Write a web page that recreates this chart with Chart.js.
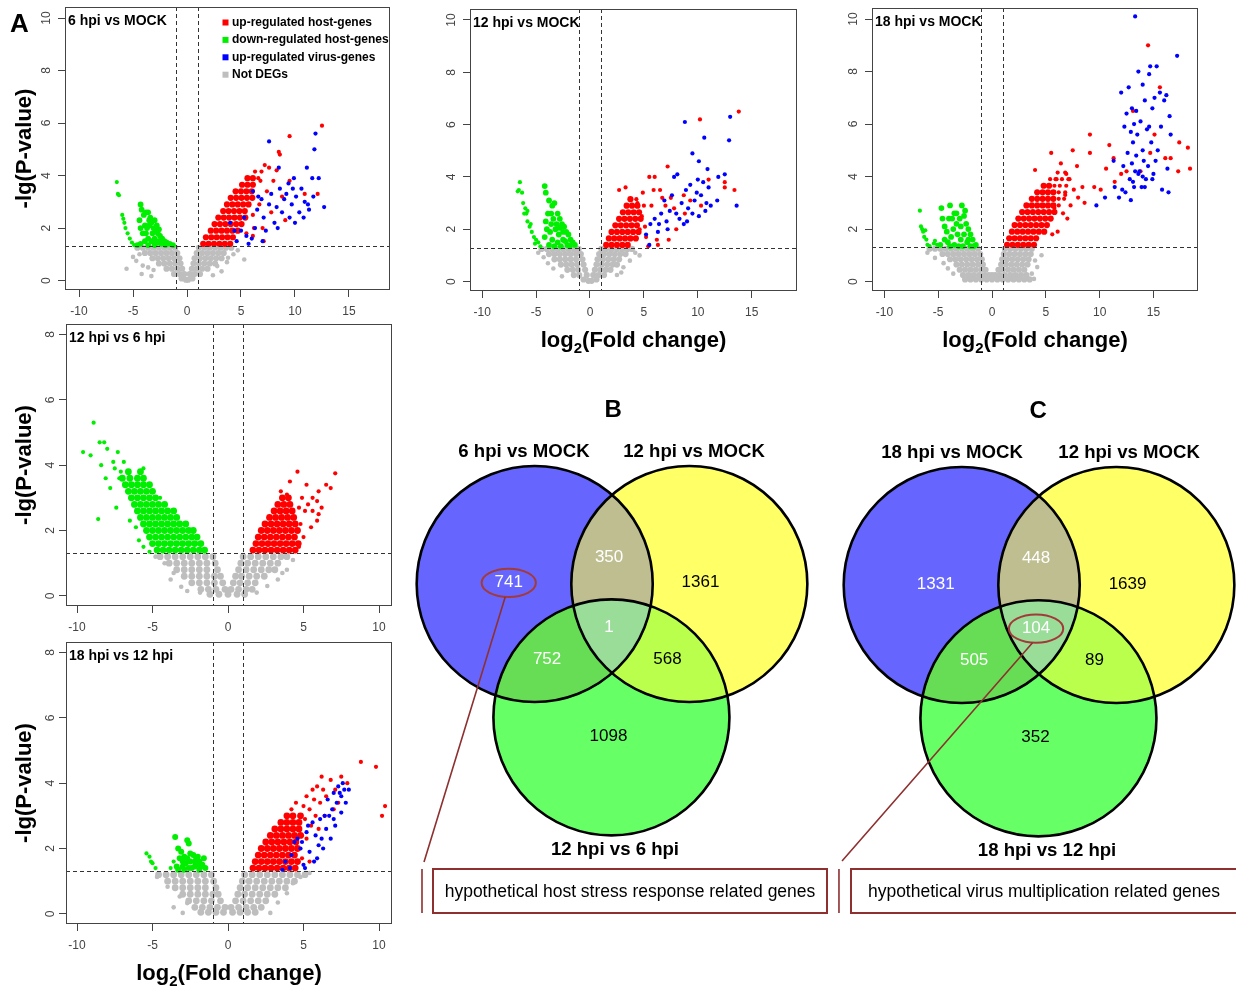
<!DOCTYPE html>
<html>
<head>
<meta charset="utf-8">
<script src="https://cdn.jsdelivr.net/npm/chart.js@4/dist/chart.umd.min.js"></script>
<style>
  body { margin: 0; background: #fff; width: 1236px; height: 987px; position: relative; overflow: hidden; }
  canvas { position: absolute; }
  .note { position: absolute; box-sizing: border-box; height: 46px; border: 2px solid #8e3030;
          font: 17.5px "Liberation Sans", Arial, sans-serif; line-height: 42px; text-align: center;
          color: #000; white-space: nowrap; }
</style>
</head>
<body>
<canvas id="v1" width="400" height="330" style="left:0;top:0"></canvas>
<canvas id="v2" width="420" height="360" style="left:400px;top:0"></canvas>
<canvas id="v3" width="416" height="360" style="left:820px;top:0"></canvas>
<canvas id="v4" width="400" height="326" style="left:0;top:314px"></canvas>
<canvas id="v5" width="400" height="353" style="left:0;top:634px"></canvas>
<canvas id="vennB" width="425" height="535" style="left:405px;top:385px"></canvas>
<canvas id="vennC" width="406" height="535" style="left:830px;top:385px"></canvas>
<div class="note" style="left:432px;top:868px;width:396px">hypothetical host stress response related genes</div>
<div class="note" style="left:850px;top:868px;width:388px">hypothetical virus multiplication related genes</div>
<script>
// ---- data ----
const panelTitles = ['6 hpi vs MOCK', '12 hpi vs MOCK', '18 hpi vs MOCK', '12 hpi vs 6 hpi', '18 hpi vs 12 hpi'];
const legendLabels = ['up-regulated host-genes', 'down-regulated host-genes', 'up-regulated virus-genes', 'Not DEGs'];
const topXTicks = [-10, -5, 0, 5, 10, 15];
const topYTicks = [0, 2, 4, 6, 8, 10];
const lowXTicks = [-10, -5, 0, 5, 10];
const lowYTicks = [0, 2, 4, 6, 8];
const thresholdX = [-1, 1];
const thresholdY = 1.3;
const xAxisTitle = ['log', '2', '(Fold change)'];   // base, subscript, rest
const yAxisTitle = '-lg(P-value)';

// 6 hpi vs MOCK  (Core = densely packed genes, others = scattered genes)
const p1GrayCore = [[-4.6,1.25],[-4.1,1.25],[-3.6,1.25],[-3.1,1.25],[-2.6,1.25],[-2.1,1.25],[-1.6,1.25],[-1.1,1.25],[1.1,1.25],[1.6,1.25],[2.1,1.25],[2.6,1.25],[3.1,1.25],[3.6,1.25],[4.1,1.25],
  [-3.9,1.05],[-3.4,1.05],[-2.9,1.05],[-2.4,1.05],[-1.9,1.05],[-1.4,1.05],[-0.9,1.05],[0.9,1.05],[1.4,1.05],[1.9,1.05],[2.4,1.05],[2.9,1.05],[3.4,1.05],
  [-3.2,0.85],[-2.7,0.85],[-2.2,0.85],[-1.7,0.85],[-1.2,0.85],[-0.7,0.85],[0.7,0.85],[1.2,0.85],[1.7,0.85],[2.2,0.85],[2.7,0.85],[3.2,0.85],
  [-2.6,0.65],[-2.1,0.65],[-1.6,0.65],[-1.1,0.65],[-0.6,0.65],[0.6,0.65],[1.1,0.65],[1.6,0.65],[2.1,0.65],[2.6,0.65],
  [-1.9,0.45],[-1.4,0.45],[-0.9,0.45],[-0.45,0.45],[0.45,0.45],[0.9,0.45],[1.4,0.45],[1.9,0.45],
  [-1.2,0.25],[-0.7,0.25],[-0.25,0.25],[0.25,0.25],[0.7,0.25],[1.2,0.25],
  [-0.5,0.08],[-0.1,0.03],[0.1,0.03],[0.5,0.08]];
const p1Gray = [[-5.0,0.9],[-4.7,0.75],[-4.1,0.57],[-4.4,1.0],[-3.6,0.5],[-3.3,0.17],[-3.1,0.4],[-5.6,0.45],[-4.2,0.25],
  [2.8,0.55],[3.8,0.87],[3.7,0.7],[4.3,1.0],[3.2,0.35],[4.7,1.15],[5.3,0.8],[2.4,0.2]];
const p1GreenCore = [[-4.3,2.9],[-4.2,2.7],[-4.4,2.3],[-4.0,2.5],[-3.8,2.6],[-3.6,2.6],[-3.4,2.4],[-3.7,2.0],[-3.5,2.1],[-3.3,2.2],[-3.1,2.0],[-2.9,1.9],[-2.7,1.8],[-2.5,1.7],[-2.3,1.6],[-2.1,1.5],[-1.9,1.45],[-1.6,1.4],[-1.3,1.35],
  [-4.1,1.8],[-3.9,1.5],[-3.6,1.6],[-3.3,1.5],[-3.0,1.6],[-2.8,1.45],[-2.4,1.4],[-2.0,1.35],[-4.3,1.4],[-3.6,1.35],[-3.0,1.35],[-2.6,1.5],[-3.2,1.8],[-3.9,2.1],[-4.3,2.0],[-3.5,2.3],[-2.8,2.1],[-3.0,2.3],[-4.6,1.35],[-3.8,1.8],[-2.6,1.95]];
const p1Green = [[-6.5,3.75],[-6.4,3.3],[-6.3,3.25],[-6.0,2.5],[-5.9,2.35],[-5.8,2.2],[-5.7,2.0],[-5.5,1.8],[-5.3,1.6],[-5.1,1.45],[-4.9,1.35]];
const p1RedCore = [[1.5,1.4],[2.0,1.4],[2.5,1.4],[3.0,1.4],[3.5,1.4],[4.0,1.4],
  [1.75,1.65],[2.25,1.65],[2.75,1.65],[3.25,1.65],[3.75,1.65],[4.25,1.65],
  [2.2,1.9],[2.7,1.9],[3.2,1.9],[3.7,1.9],[4.2,1.9],[4.7,1.9],
  [2.55,2.15],[3.05,2.15],[3.55,2.15],[4.05,2.15],[4.55,2.15],[5.05,2.15],
  [2.9,2.4],[3.4,2.4],[3.9,2.4],[4.4,2.4],[4.9,2.4],[5.4,2.4],
  [3.35,2.65],[3.85,2.65],[4.35,2.65],[4.85,2.65],[5.35,2.65],
  [3.7,2.9],[4.2,2.9],[4.7,2.9],[5.2,2.9],[5.7,2.9],
  [4.05,3.15],[4.55,3.15],[5.05,3.15],[5.55,3.15],[6.05,3.15],
  [4.5,3.4],[5.0,3.4],[5.5,3.4],[6.0,3.4],
  [5.1,3.65],[5.6,3.65],[6.1,3.65],[5.6,3.9],[6.1,3.9]];
const p1Red = [[6.6,3.9],[6.3,4.15],[6.9,4.15],
  [5.5,1.8],[6.1,1.7],[7.0,2.0],[6.1,2.5],[6.7,2.9],[7.4,3.4],[6.8,3.8],[7.2,4.4],[7.6,4.3],[8.0,3.8],[8.3,4.2],[8.5,4.9],[8.6,4.8],[9.5,5.5],[12.5,5.9],[12.1,3.3],[10.9,3.3],[9.5,3.8],[9.1,2.3],[6.2,2.0],[7.8,2.6],[8.8,3.2],[7.1,1.5]];
const p1Blue = [[4.0,2.2],[4.4,1.9],[4.6,1.5],[5.0,1.9],[5.3,2.4],[5.5,1.7],[6.1,3.4],[6.6,3.2],
  [6.0,1.6],[6.3,2.0],[6.5,2.7],[6.9,3.1],[7.1,2.4],[7.3,1.9],[7.6,2.9],[7.8,3.3],[7.6,5.3],[8.1,2.2],[8.3,2.8],[8.5,4.3],[8.6,3.5],[8.8,2.6],[9.0,3.1],[9.2,3.3],[9.5,2.4],[9.7,2.9],[9.9,3.9],[10.1,3.2],[10.4,2.6],[10.6,3.5],[10.9,3.0],[11.1,4.3],[11.3,2.7],[11.6,3.9],[11.9,5.6],[11.8,5.0],[11.7,3.2],[12.2,3.9],[12.7,2.8],[8.4,2.0],[10.0,2.2],[7.0,1.5],[9.4,3.7],[10.8,2.4],[5.7,1.4],[9.8,3.5],[11.2,2.9]];

// 12 hpi vs MOCK
const p2GrayCore = [[-4.5,1.25],[-4.0,1.25],[-3.5,1.25],[-3.0,1.25],[-2.5,1.25],[-2.0,1.25],[-1.5,1.25],[-1.05,1.25],[1.05,1.25],[1.5,1.25],[2.0,1.25],[2.5,1.25],[3.0,1.25],[3.5,1.25],[3.9,1.25],
  [-3.8,1.05],[-3.3,1.05],[-2.8,1.05],[-2.3,1.05],[-1.8,1.05],[-1.3,1.05],[-0.85,1.05],[0.85,1.05],[1.3,1.05],[1.8,1.05],[2.3,1.05],[2.8,1.05],[3.3,1.05],
  [-3.3,0.85],[-2.8,0.85],[-2.3,0.85],[-1.8,0.85],[-1.3,0.85],[-0.7,0.85],[0.7,0.85],[1.2,0.85],[1.7,0.85],[2.2,0.85],[2.7,0.85],
  [-2.7,0.65],[-2.2,0.65],[-1.7,0.65],[-1.2,0.65],[-0.6,0.65],[0.6,0.65],[1.1,0.65],[1.6,0.65],[2.1,0.65],[2.5,0.65],
  [-2.1,0.45],[-1.6,0.45],[-1.1,0.45],[-0.45,0.45],[0.45,0.45],[0.95,0.45],[1.45,0.45],[1.9,0.45],
  [-1.5,0.25],[-1.0,0.25],[-0.3,0.25],[0.3,0.25],[0.8,0.25],[1.3,0.25],
  [-0.6,0.08],[-0.15,0.03],[0.15,0.03],[0.6,0.08]];
const p2Gray = [[-4.3,0.93],[-3.9,0.7],[-3.4,0.5],[-2.6,0.2],[-4.8,1.1],[4.2,1.1],[3.7,0.8],[3.1,0.55],[2.5,0.25],[4.6,1.0],[2.9,0.35]];
const p2GreenCore = [[-4.2,3.65],[-4.1,3.4],[-3.8,3.1],[-3.5,2.9],[-3.3,3.0],[-3.6,2.6],[-3.9,2.6],[-4.1,2.3],[-3.4,2.4],[-3.0,2.6],[-2.8,2.4],[-2.6,2.2],[-2.4,2.1],[-2.2,1.9],[-2.0,1.8],[-1.8,1.6],[-1.6,1.5],[-1.4,1.4],
  [-3.7,1.9],[-3.2,2.0],[-2.9,1.8],[-3.5,1.6],[-3.0,1.5],[-2.5,1.6],[-2.1,1.4],[-3.8,1.4],[-4.2,1.7],[-3.3,1.35],[-2.7,1.35],[-2.5,1.9],[-3.1,2.2],[-2.8,2.05],[-3.6,2.2],[-2.3,1.55],[-1.9,1.35],[-4.0,2.0]];
const p2Green = [[-6.5,3.8],[-6.6,3.5],[-6.3,3.4],[-6.2,3.0],[-6.0,2.8],[-5.9,2.6],[-5.8,2.3],[-5.6,2.1],[-5.4,1.9],[-5.2,1.7],[-5.0,1.6],[-4.8,1.5],[-4.6,1.35],[-5.8,2.7],[-6.1,2.6],[-5.5,2.2],[-6.7,3.45],[-5.1,1.45]];
const p2RedCore = [[1.5,1.4],[2.0,1.4],[2.5,1.4],[3.0,1.4],[3.5,1.4],
  [1.75,1.65],[2.25,1.65],[2.75,1.65],[3.25,1.65],[3.75,1.65],[4.25,1.65],
  [2.0,1.9],[2.5,1.9],[3.0,1.9],[3.5,1.9],[4.0,1.9],[4.5,1.9],
  [2.35,2.15],[2.85,2.15],[3.35,2.15],[3.85,2.15],[4.35,2.15],
  [2.7,2.4],[3.2,2.4],[3.7,2.4],[4.2,2.4],[4.7,2.4],
  [3.05,2.65],[3.55,2.65],[4.05,2.65],[4.55,2.65],[3.4,2.9],[3.9,2.9],[4.4,2.9],[3.75,3.15]];
const p2Red = [[4.3,3.15],[5.5,4.0],[6.0,4.0],[7.2,4.4],[6.5,3.5],[5.9,3.5],[7.0,2.9],[7.5,3.2],[7.8,2.8],[8.0,2.0],[7.3,1.6],[6.2,1.6],[5.4,1.35],[6.3,1.4],[8.7,3.3],[9.3,3.1],[10.2,6.2],[10.3,2.9],[11.0,3.9],[12.5,3.8],[12.5,3.6],[13.4,3.5],[13.8,6.5],
  [2.7,3.5],[3.3,3.6],[4.4,3.0],[4.8,2.5],[5.1,2.1],[5.7,2.9],[6.7,3.2],[4.6,2.0],[5.2,1.7],[8.8,2.6],[5.0,2.9],[4.9,3.4]];
const p2Blue = [[5.2,1.8],[5.6,2.2],[6.0,2.4],[6.3,1.9],[6.6,2.6],[6.9,3.1],[7.1,2.3],[7.4,2.7],[7.6,3.3],[7.8,4.0],[8.1,4.1],[8.3,2.4],[8.5,3.0],[8.7,2.2],[8.9,3.5],[9.1,2.8],[9.3,3.7],[9.5,2.6],[9.7,3.1],[9.9,3.4],[10.1,2.5],[10.3,3.3],[10.5,3.8],[10.8,3.0],[11.0,3.6],[11.2,2.9],[11.8,3.1],[12.5,4.1],[13.6,2.9],
  [8.8,6.1],[13.0,6.3],[12.9,5.4],[10.6,5.5],[9.5,4.9],[10.1,4.6],[10.9,4.3],[11.9,4.0],[7.2,2.0],[8.0,2.6],[9.0,2.3],[10.0,3.9],[10.7,2.7],[6.4,2.2],[5.5,1.4]];

// 18 hpi vs MOCK
const p3GrayCore = [[-5.8,1.25],[-5.3,1.25],[-4.8,1.25],[-4.3,1.25],[-3.8,1.25],[-3.3,1.25],[-2.8,1.25],[-2.3,1.25],[-1.8,1.25],[-1.3,1.25],[1.2,1.25],[1.7,1.25],[2.2,1.25],[2.7,1.25],[3.2,1.25],[3.7,1.25],
  [-4.6,1.05],[-4.1,1.05],[-3.6,1.05],[-3.1,1.05],[-2.6,1.05],[-2.1,1.05],[-1.6,1.05],[-1.1,1.05],[1.1,1.05],[1.6,1.05],[2.1,1.05],[2.6,1.05],[3.1,1.05],[3.6,1.05],
  [-3.9,0.85],[-3.4,0.85],[-2.9,0.85],[-2.4,0.85],[-1.9,0.85],[-1.4,0.85],[-0.95,0.85],[0.95,0.85],[1.4,0.85],[1.9,0.85],[2.4,0.85],[2.9,0.85],[3.4,0.85],
  [-3.3,0.65],[-2.8,0.65],[-2.3,0.65],[-1.8,0.65],[-1.3,0.65],[-0.85,0.65],[0.85,0.65],[1.3,0.65],[1.8,0.65],[2.3,0.65],[2.8,0.65],[3.3,0.65],
  [-3.0,0.45],[-2.5,0.45],[-2.0,0.45],[-1.5,0.45],[-1.0,0.45],[-0.6,0.45],[0.6,0.45],[1.0,0.45],[1.5,0.45],[2.0,0.45],[2.5,0.45],[3.0,0.45],
  [-2.7,0.25],[-2.2,0.25],[-1.7,0.25],[-1.2,0.25],[-0.7,0.25],[-0.3,0.25],[0.0,0.25],[0.3,0.25],[0.7,0.25],[1.2,0.25],[1.7,0.25],[2.2,0.25],[2.7,0.25],[3.2,0.25],
  [-2.5,0.08],[-2.0,0.08],[-1.5,0.08],[-1.0,0.08],[-0.5,0.08],[0.0,0.08],[0.5,0.08],[1.0,0.08],[1.5,0.08],[2.0,0.08],[2.5,0.08],[3.0,0.08],[3.5,0.08]];
const p3Gray = [[-5.3,0.9],[-4.5,0.7],[-4.1,0.5],[-3.6,0.3],[-6.0,1.1],[4.2,0.55],[3.7,0.3],[4.0,0.8],[4.6,1.0],[3.9,0.1]];
const p3GreenCore = [[-4.7,2.8],[-4.6,2.4],[-4.4,2.1],[-4.2,1.9],[-3.9,2.9],[-3.7,2.4],[-3.5,2.6],[-3.3,2.2],[-3.0,2.4],[-2.8,2.9],[-2.6,2.5],[-2.4,2.2],[-2.2,2.0],[-2.0,1.8],[-1.8,1.6],[-1.5,1.4],
  [-4.1,1.5],[-3.8,1.7],[-3.5,1.4],[-3.2,1.8],[-2.9,1.6],[-2.6,1.8],[-2.3,1.5],[-2.9,2.1],[-3.6,2.0],[-4.4,1.6],[-2.0,1.35],[-3.1,1.35],[-2.7,1.35],[-4.0,2.4],[-3.3,2.6],[-2.5,2.7],[-4.8,1.4],[-1.7,1.35],[-3.9,1.35],[-2.2,1.6]];
const p3Green = [[-6.7,2.7],[-6.6,2.1],[-6.4,1.9],[-6.3,1.7],[-6.1,1.6],[-6.0,1.4],[-5.8,1.35],[-5.3,1.55],[-5.1,1.4],[-6.2,1.95],[-6.5,2.0],[-5.4,1.45]];
const p3RedCore = [[1.4,1.4],[1.9,1.4],[2.4,1.4],[2.9,1.4],[3.4,1.4],[3.9,1.4],
  [1.6,1.65],[2.1,1.65],[2.6,1.65],[3.1,1.65],[3.6,1.65],[4.1,1.65],
  [1.85,1.9],[2.35,1.9],[2.85,1.9],[3.35,1.9],[3.85,1.9],[4.35,1.9],[4.85,1.9],
  [2.1,2.15],[2.6,2.15],[3.1,2.15],[3.6,2.15],[4.1,2.15],[4.6,2.15],[5.1,2.15],
  [2.45,2.4],[2.95,2.4],[3.45,2.4],[3.95,2.4],[4.45,2.4],[4.95,2.4],[5.45,2.4],
  [2.8,2.65],[3.3,2.65],[3.8,2.65],[4.3,2.65],[4.8,2.65],[5.3,2.65],[5.8,2.65],
  [3.2,2.9],[3.7,2.9],[4.2,2.9],[4.7,2.9],[5.2,2.9],[5.7,2.9],
  [3.7,3.15],[4.2,3.15],[4.7,3.15],[5.2,3.15],[5.7,3.15],
  [4.2,3.4],[4.7,3.4],[5.2,3.4],[5.7,3.4],[4.8,3.65],[5.3,3.65]];
const p3Red = [[6.2,2.9],[6.2,3.15],[6.7,3.15],[6.2,3.4],[6.8,3.4],[5.8,3.65],[6.3,3.65],[6.9,3.65],[5.4,3.9],[5.9,3.9],[6.5,3.9],[7.1,3.9],[6.1,4.15],[6.8,4.15],
  [4.0,4.25],[5.5,4.9],[7.5,5.0],[9.1,5.6],[9.1,4.9],[6.4,4.5],[7.9,4.4],[8.4,3.6],[7.2,3.9],[6.8,3.3],[8.6,3.0],[9.5,3.6],[10.1,3.5],[10.9,5.2],[11.3,4.7],[10.6,4.3],[11.4,3.8],[12.0,4.1],
  [14.5,9.0],[15.6,7.4],[15.1,5.6],[14.7,4.9],[16.1,4.7],[16.6,4.7],[17.4,5.3],[17.3,4.2],[18.2,5.1],[18.4,4.3],[13.1,6.5],[13.8,4.2],[12.5,4.2],
  [5.6,1.8],[6.1,1.9],[5.8,2.8],[6.6,2.6],[7.0,2.4],[6.9,4.1],[7.6,3.5],[8.0,3.2],[7.3,2.9],[6.0,3.9]];
const p3Blue = [[9.7,2.9],[10.5,3.2],[11.3,4.6],[11.4,3.6],[11.8,3.2],[12.0,7.2],[12.1,3.5],[12.2,4.4],[12.3,5.9],[12.4,3.4],[12.5,6.4],[12.6,4.9],[12.7,7.4],[12.8,3.9],[12.9,3.1],[13.0,6.6],[13.0,4.5],[13.1,5.3],[13.2,6.0],[13.2,3.6],[13.3,10.1],
  [13.4,4.8],[13.5,5.6],[13.6,8.0],[13.7,4.2],[13.8,6.1],[13.9,3.6],[14.0,5.0],[14.0,7.5],[14.1,4.6],[14.2,6.9],[14.3,3.9],[14.4,5.8],[14.5,4.4],[14.6,7.9],[14.7,8.2],[14.8,5.3],[14.9,6.6],[15.0,4.1],[15.1,7.0],[15.3,8.2],[15.4,5.0],[15.6,7.2],[15.8,3.5],
  [16.0,6.9],[16.2,7.1],[16.3,4.3],[16.4,3.4],[16.5,6.3],[16.6,5.6],[17.2,8.6],[14.2,3.6],[13.6,4.1],[15.2,4.6],[13.4,6.5],[14.6,5.9],[12.9,5.7],[14.0,4.0],[13.3,4.2],[15.7,5.9],[14.9,3.9],[13.1,3.8]];

// 12 hpi vs 6 hpi
const p4GrayCore = [[-4.5,1.2],[-4.0,1.2],[-3.5,1.2],[-3.0,1.2],[-2.5,1.2],[-2.0,1.2],[-1.5,1.2],[-1.0,1.2],[1.0,1.2],[1.5,1.2],[2.0,1.2],[2.5,1.2],[3.0,1.2],[3.5,1.2],[3.9,1.2],
  [-3.9,1.0],[-3.4,1.0],[-2.9,1.0],[-2.4,1.0],[-1.9,1.0],[-1.4,1.0],[-0.85,1.0],[0.85,1.0],[1.3,1.0],[1.8,1.0],[2.3,1.0],[2.8,1.0],[3.3,1.0],
  [-3.4,0.8],[-2.9,0.8],[-2.4,0.8],[-1.9,0.8],[-1.4,0.8],[-0.7,0.8],[0.7,0.8],[1.2,0.8],[1.7,0.8],[2.2,0.8],[2.7,0.8],[3.1,0.8],
  [-2.9,0.6],[-2.4,0.6],[-1.9,0.6],[-1.4,0.6],[-0.9,0.6],[-0.5,0.6],[0.5,0.6],[0.9,0.6],[1.4,0.6],[1.9,0.6],[2.4,0.6],
  [-2.4,0.4],[-1.9,0.4],[-1.4,0.4],[-0.9,0.4],[-0.35,0.4],[0.35,0.4],[0.8,0.4],[1.3,0.4],[1.8,0.4],
  [-1.8,0.2],[-1.3,0.2],[-0.8,0.2],[-0.2,0.2],[0.2,0.2],[0.7,0.2],[1.2,0.2],[1.6,0.2],
  [-1.2,0.05],[-0.6,0.05],[0.0,0.05],[0.6,0.05],[1.1,0.05]];
const p4Gray = [[-3.6,0.7],[-3.1,0.28],[-1.85,0.1],[-4.2,1.0],[-3.8,0.5],[-2.7,0.15],[3.6,0.7],[3.9,0.8],[3.3,0.5],[1.9,0.1],[4.3,1.1],[2.6,0.3],[-4.8,1.2]];
const p4GreenCore = [[-4.7,1.4],[-4.3,1.4],[-3.9,1.4],[-3.5,1.4],[-3.1,1.4],[-2.7,1.4],[-2.3,1.4],[-1.9,1.4],[-1.55,1.4],
  [-5.0,1.6],[-4.6,1.6],[-4.2,1.6],[-3.8,1.6],[-3.4,1.6],[-3.0,1.6],[-2.6,1.6],[-2.2,1.6],[-1.8,1.6],
  [-5.2,1.8],[-4.8,1.8],[-4.4,1.8],[-4.0,1.8],[-3.6,1.8],[-3.2,1.8],[-2.8,1.8],[-2.4,1.8],[-2.05,1.8],
  [-5.4,2.0],[-5.0,2.0],[-4.6,2.0],[-4.2,2.0],[-3.8,2.0],[-3.4,2.0],[-3.0,2.0],[-2.6,2.0],[-2.3,2.0],
  [-5.6,2.2],[-5.2,2.2],[-4.8,2.2],[-4.4,2.2],[-4.0,2.2],[-3.6,2.2],[-3.2,2.2],[-2.8,2.2],
  [-5.8,2.4],[-5.4,2.4],[-5.0,2.4],[-4.6,2.4],[-4.2,2.4],[-3.8,2.4],[-3.4,2.4],
  [-6.0,2.6],[-5.6,2.6],[-5.2,2.6],[-4.8,2.6],[-4.4,2.6],[-4.0,2.6],[-3.6,2.6],
  [-6.2,2.8],[-5.8,2.8],[-5.4,2.8],[-5.0,2.8],[-4.6,2.8],[-4.2,2.8],
  [-6.4,3.0],[-6.0,3.0],[-5.6,3.0],[-5.2,3.0],[-4.8,3.0],
  [-6.6,3.2],[-6.2,3.2],[-5.8,3.2],[-5.4,3.2],[-5.0,3.2],
  [-6.8,3.4],[-6.4,3.4],[-6.0,3.4],[-5.6,3.4],[-5.2,3.4],
  [-7.0,3.6],[-6.5,3.6],[-6.0,3.6],[-5.6,3.6],[-6.6,3.8],[-5.8,3.8]];
const p4Green = [[-7.1,3.8],[-9.6,4.4],[-8.9,5.3],[-8.5,4.7],[-8.2,4.7],[-8.6,2.35],[-8.4,4.0],[-8.0,4.5],[-7.6,4.1],[-7.3,4.4],[-7.5,3.9],[-7.2,3.6],[-7.4,2.7],[-8.1,3.6],[-9.1,4.3],[-7.8,3.3],[-6.9,4.1],[-6.5,2.3],[-6.1,2.1],[-5.9,1.7],[-5.6,1.5],[-5.2,1.35],[-5.6,3.9],[-4.5,3.0]];
const p4RedCore = [[1.65,1.4],[2.05,1.4],[2.45,1.4],[2.85,1.4],[3.25,1.4],[3.65,1.4],[4.05,1.4],[4.45,1.4],
  [1.85,1.6],[2.25,1.6],[2.65,1.6],[3.05,1.6],[3.45,1.6],[3.85,1.6],[4.25,1.6],[4.65,1.6],
  [2.0,1.8],[2.4,1.8],[2.8,1.8],[3.2,1.8],[3.6,1.8],[4.0,1.8],[4.4,1.8],
  [2.2,2.0],[2.6,2.0],[3.0,2.0],[3.4,2.0],[3.8,2.0],[4.2,2.0],[4.6,2.0],
  [2.45,2.2],[2.85,2.2],[3.25,2.2],[3.65,2.2],[4.05,2.2],[4.45,2.2],
  [2.75,2.4],[3.15,2.4],[3.55,2.4],[3.95,2.4],[4.35,2.4],
  [3.05,2.6],[3.45,2.6],[3.85,2.6],[4.25,2.6],[3.3,2.8],[3.7,2.8],[4.1,2.8],[3.6,3.0],[4.0,3.0]];
const p4Red = [[4.6,3.8],[4.1,3.5],[4.7,2.7],[5.2,3.4],[5.6,3.0],[5.9,2.9],[6.0,3.2],[6.2,2.7],[6.5,3.4],[6.8,3.3],[7.1,3.75],[6.0,2.5],[5.9,2.3],[5.5,2.1],[5.1,2.6],[4.8,2.2],[5.0,1.8],[5.3,2.8],[4.9,3.0],[5.6,2.6],[4.7,1.5],[3.5,3.2],[3.9,3.1]];
const p4Blue = [];

// 18 hpi vs 12 hpi
const p5GrayCore = [[-4.6,1.2],[-4.1,1.2],[-3.6,1.2],[-3.1,1.2],[-2.6,1.2],[-2.1,1.2],[-1.6,1.2],[-1.1,1.2],[1.1,1.2],[1.6,1.2],[2.1,1.2],[2.6,1.2],[3.1,1.2],[3.6,1.2],[4.1,1.2],[4.6,1.2],[5.1,1.2],
  [-4.0,1.0],[-3.5,1.0],[-3.0,1.0],[-2.5,1.0],[-2.0,1.0],[-1.5,1.0],[-0.95,1.0],[0.95,1.0],[1.4,1.0],[1.9,1.0],[2.4,1.0],[2.9,1.0],[3.4,1.0],[3.9,1.0],[4.4,1.0],
  [-3.5,0.8],[-3.0,0.8],[-2.5,0.8],[-2.0,0.8],[-1.5,0.8],[-0.8,0.8],[0.8,0.8],[1.3,0.8],[1.8,0.8],[2.3,0.8],[2.8,0.8],[3.3,0.8],[3.8,0.8],
  [-3.0,0.6],[-2.5,0.6],[-2.0,0.6],[-1.5,0.6],[-1.0,0.6],[-0.65,0.6],[0.65,0.6],[1.1,0.6],[1.6,0.6],[2.1,0.6],[2.6,0.6],[3.1,0.6],
  [-2.6,0.4],[-2.1,0.4],[-1.6,0.4],[-1.1,0.4],[-0.5,0.4],[0.5,0.4],[1.0,0.4],[1.5,0.4],[2.0,0.4],[2.5,0.4],
  [-2.2,0.2],[-1.7,0.2],[-1.2,0.2],[-0.7,0.2],[-0.2,0.2],[0.2,0.2],[0.7,0.2],[1.2,0.2],[1.7,0.2],[2.2,0.2],
  [-1.8,0.05],[-1.3,0.05],[-0.8,0.05],[-0.3,0.05],[0.3,0.05],[0.8,0.05],[1.3,0.05],[1.8,0.05]];
const p5Gray = [[-4.7,1.13],[-4.0,0.83],[-3.2,0.53],[-2.7,0.33],[-3.0,0.03],[-3.6,0.2],[4.3,0.94],[3.9,0.63],[2.8,0.03],[4.8,1.13],[5.4,1.25],[3.3,0.35]];
const p5GreenCore = [[-3.5,2.35],[-3.3,2.0],[-3.1,1.9],[-2.9,1.75],[-2.7,2.25],[-2.6,2.15],[-2.5,1.6],[-2.3,1.8],[-2.1,1.7],[-1.9,1.6],[-1.7,1.5],[-1.5,1.4],
  [-3.4,1.45],[-3.0,1.45],[-2.6,1.4],[-2.2,1.45],[-1.9,1.35],[-3.0,1.6],[-2.5,1.85],[-2.0,1.5],[-3.2,1.7],[-1.6,1.7],[-2.8,1.55],[-2.4,1.4],[-2.7,1.7],[-2.2,1.6],[-1.8,1.45],[-3.3,1.35],[-2.9,1.35],[-2.0,1.75]];
const p5Green = [[-5.4,1.85],[-5.2,1.75],[-5.0,1.55],[-4.8,1.4],[-5.1,1.6],[-3.6,1.6],[-3.8,1.4]];
const p5RedCore = [[1.65,1.4],[2.05,1.4],[2.45,1.4],[2.85,1.4],[3.25,1.4],[3.65,1.4],[4.05,1.4],[4.45,1.4],
  [1.8,1.6],[2.2,1.6],[2.6,1.6],[3.0,1.6],[3.4,1.6],[3.8,1.6],[4.2,1.6],[4.6,1.6],
  [2.0,1.8],[2.4,1.8],[2.8,1.8],[3.2,1.8],[3.6,1.8],[4.0,1.8],[4.4,1.8],
  [2.2,2.0],[2.6,2.0],[3.0,2.0],[3.4,2.0],[3.8,2.0],[4.2,2.0],[4.6,2.0],
  [2.5,2.2],[2.9,2.2],[3.3,2.2],[3.7,2.2],[4.1,2.2],[4.5,2.2],
  [2.8,2.4],[3.2,2.4],[3.6,2.4],[4.0,2.4],[4.4,2.4],[4.8,2.4],
  [3.1,2.6],[3.5,2.6],[3.9,2.6],[4.3,2.6],[4.7,2.6],[3.5,2.8],[3.9,2.8],[4.3,2.8],[4.7,2.8],[3.9,3.0],[4.3,3.0],[4.8,3.0]];
const p5Red = [[5.0,3.3],[5.2,3.6],[5.4,3.2],[5.6,3.8],[5.9,3.9],[6.2,4.2],[6.5,3.6],[6.8,4.1],[7.1,3.8],[7.5,4.2],[7.9,4.0],[5.1,2.9],[5.5,2.7],[5.8,3.0],[6.1,3.4],[5.4,1.6],[6.0,2.6],[6.4,3.0],[7.0,3.2],[7.3,3.4],
  [8.8,4.65],[9.8,4.5],[10.4,3.3],[10.2,3.0],[4.9,1.7],[5.2,2.3],[4.5,3.4],[4.2,3.2],[6.3,3.8],[5.7,3.5],[4.9,2.4]];
const p5Blue = [[3.6,1.35],[3.8,1.6],[4.2,1.8],[4.4,2.2],[4.6,2.3],[4.8,2.0],[5.0,1.5],[5.2,2.5],[5.4,1.9],[5.6,2.8],[5.8,2.4],[5.9,1.7],[6.0,2.1],[6.1,2.9],[6.2,2.3],[6.4,3.0],[6.5,2.6],[6.6,3.5],[6.8,2.3],[6.9,3.2],
  [7.0,3.7],[7.1,2.7],[7.2,3.4],[7.3,3.9],[7.4,3.7],[7.5,3.1],[7.6,4.0],[7.7,3.8],[7.8,3.4],[8.0,3.8],[5.3,2.7],[6.3,2.0],[4.9,2.2],[7.0,2.9],[4.1,1.4],[5.7,1.6],[5.1,1.4],[6.7,3.0],[7.5,3.6]];

// Venn diagrams: regions in order [A only, A&B, B only, A&C, A&B&C, B&C, C only]
const vennBSets = ['6 hpi vs MOCK', '12 hpi vs MOCK', '12 hpi vs 6 hpi'];
const vennBCounts = [741, 350, 1361, 752, 1, 568, 1098];
const vennCSets = ['18 hpi vs MOCK', '12 hpi vs MOCK', '18 hpi vs 12 hpi'];
const vennCCounts = [1331, 448, 1639, 505, 104, 89, 352];

// ---- drawing ----
const FONT = '"Liberation Sans", Arial, "DejaVu Sans", sans-serif';
const AXIS = '#444';
const C_UP = '#ff0000', C_DOWN = '#00ee00', C_VIRUS = '#0000ff', C_NS = '#bebebe';
const legendColors = [C_UP, C_DOWN, C_VIRUS, C_NS];

const toXY = arr => arr.map(([x, y]) => ({x: x, y: y}));

function volcanoDecor(p) {
  return {
    id: 'volcanoDecor',
    afterDatasetsDraw(chart) {
      const ctx = chart.ctx, a = chart.chartArea;
      const xs = chart.scales.x, ys = chart.scales.y;
      ctx.save();
      ctx.strokeStyle = '#333';
      ctx.lineWidth = 1;
      ctx.setLineDash([4, 3]);
      thresholdX.forEach(v => {
        const px = Math.round(xs.getPixelForValue(v)) + 0.5;
        ctx.beginPath(); ctx.moveTo(px, a.top); ctx.lineTo(px, a.bottom); ctx.stroke();
      });
      const py = Math.round(ys.getPixelForValue(thresholdY)) + 0.5;
      ctx.beginPath(); ctx.moveTo(a.left, py); ctx.lineTo(a.right, py); ctx.stroke();
      ctx.setLineDash([]);
      ctx.strokeStyle = AXIS;
      ctx.strokeRect(Math.round(a.left) + 0.5, Math.round(a.top) + 0.5, Math.round(a.right - a.left) - 1, Math.round(a.bottom - a.top) - 1);
      ctx.fillStyle = '#000';
      ctx.font = 'bold 14px ' + FONT;
      ctx.textAlign = 'left';
      ctx.textBaseline = 'middle';
      ctx.fillText(p.title, a.left + 3, a.top + 14);
      if (p.legend) {
        ctx.font = 'bold 12px ' + FONT;
        legendLabels.forEach((lab, i) => {
          const cy = a.top + 15.5 + i * 17.4;
          ctx.fillStyle = legendColors[i];
          ctx.fillRect(a.left + 157.5, cy - 3, 6, 6);
          ctx.fillStyle = '#000';
          ctx.fillText(lab, a.left + 167, cy);
        });
      }
      if (p.xTitle) {
        // x-axis title with a real subscript: log2(Fold change)
        const big = 'bold 22px ' + FONT, small = 'bold 15px ' + FONT;
        ctx.textBaseline = 'alphabetic';
        ctx.font = big;
        const w0 = ctx.measureText(xAxisTitle[0]).width, w2 = ctx.measureText(xAxisTitle[2]).width;
        ctx.font = small;
        const w1 = ctx.measureText(xAxisTitle[1]).width;
        let x = (a.left + a.right) / 2 - (w0 + w1 + w2) / 2;
        const base = a.bottom + 55.5;
        ctx.font = big; ctx.fillText(xAxisTitle[0], x, base); x += w0;
        ctx.font = small; ctx.fillText(xAxisTitle[1], x, base + 6); x += w1;
        ctx.font = big; ctx.fillText(xAxisTitle[2], x, base);
      }
      if (p.letter) {
        ctx.font = 'bold 26px ' + FONT;
        ctx.textBaseline = 'alphabetic';
        ctx.fillText(p.letter, 10, 32);
      }
      ctx.restore();
    }
  };
}

function makeVolcano(p) {
  // first dataset is drawn on top
  const sets = [
    {label: legendLabels[2], data: p.blue, color: C_VIRUS, r: 2.1},
    {label: legendLabels[0], data: p.red, color: C_UP, r: 2.1},
    {label: legendLabels[0], data: p.redCore, color: C_UP, r: p.coreR},
    {label: legendLabels[1], data: p.green, color: C_DOWN, r: 2.1},
    {label: legendLabels[1], data: p.greenCore, color: C_DOWN, r: p.greenR},
    {label: legendLabels[3], data: p.gray, color: C_NS, r: 2.3},
    {label: legendLabels[3], data: p.grayCore, color: C_NS, r: p.coreR}
  ];
  const tickFont = {family: FONT, size: 12};
  const titleFont = {family: FONT, size: 22, weight: 'bold'};
  const grid = {drawOnChartArea: false, drawTicks: true, tickLength: 7, color: AXIS, lineWidth: 1};
  new Chart(document.getElementById(p.id), {
    type: 'scatter',
    data: {
      datasets: sets.map(s => ({
        label: s.label, data: toXY(s.data), backgroundColor: s.color, borderColor: s.color,
        borderWidth: 0, pointRadius: s.r, pointHoverRadius: s.r
      }))
    },
    options: {
      responsive: false, animation: false, events: [],
      layout: {padding: {left: 0, top: p.pad.t, right: p.pad.r, bottom: 0}},
      plugins: {legend: {display: false}, tooltip: {enabled: false}},
      scales: {
        x: {
          type: 'linear', position: 'bottom', min: p.xr[0], max: p.xr[1],
          afterBuildTicks: s => { s.ticks = p.xTicks.map(v => ({value: v})); },
          afterFit: s => { s.height = p.pad.b; s.paddingLeft = 0; s.paddingRight = 0; },
          grid: grid, border: {display: false},
          ticks: {font: tickFont, color: AXIS, padding: 7, autoSkip: false, minRotation: 0, maxRotation: 0}
        },
        y: {
          type: 'linear', position: 'left', min: p.yr[0], max: p.yr[1],
          afterBuildTicks: s => { s.ticks = p.yTicks.map(v => ({value: v})); },
          afterFit: s => { s.width = p.pad.l; s.paddingTop = 0; s.paddingBottom = 0; },
          grid: grid, border: {display: false},
          ticks: {font: tickFont, color: AXIS, padding: 5, autoSkip: false, minRotation: 90, maxRotation: 90, crossAlign: 'center'},
          title: {display: !!p.yTitle, text: yAxisTitle, font: titleFont, color: '#000', padding: {top: 12, bottom: 0}}
        }
      }
    },
    plugins: [volcanoDecor(p)]
  });
}

const topY = [-0.36, 10.42], lowY = [-0.31, 8.32];
[
  {id: 'v1', title: panelTitles[0], grayCore: p1GrayCore, gray: p1Gray, greenCore: p1GreenCore, green: p1Green, redCore: p1RedCore, red: p1Red, blue: p1Blue,
   xr: [-11.3, 18.8], yr: topY, xTicks: topXTicks, yTicks: topYTicks, pad: {l: 65, t: 7, r: 10, b: 40}, coreR: 3.1, greenR: 2.9,
   yTitle: true, legend: true, letter: 'A'},
  {id: 'v2', title: panelTitles[1], grayCore: p2GrayCore, gray: p2Gray, greenCore: p2GreenCore, green: p2Green, redCore: p2RedCore, red: p2Red, blue: p2Blue,
   xr: [-11.13, 19.2], yr: topY, xTicks: topXTicks, yTicks: topYTicks, pad: {l: 70, t: 9, r: 23, b: 69}, coreR: 3.1, greenR: 2.9,
   xTitle: true},
  {id: 'v3', title: panelTitles[2], grayCore: p3GrayCore, gray: p3Gray, greenCore: p3GreenCore, green: p3Green, redCore: p3RedCore, red: p3Red, blue: p3Blue,
   xr: [-11.15, 19.14], yr: topY, xTicks: topXTicks, yTicks: topYTicks, pad: {l: 52, t: 8, r: 38, b: 69}, coreR: 3.1, greenR: 2.9,
   xTitle: true},
  {id: 'v4', title: panelTitles[3], grayCore: p4GrayCore, gray: p4Gray, greenCore: p4GreenCore, green: p4Green, redCore: p4RedCore, red: p4Red, blue: p4Blue,
   xr: [-10.73, 10.86], yr: lowY, xTicks: lowXTicks, yTicks: lowYTicks, pad: {l: 66, t: 10, r: 8, b: 34}, coreR: 3.4, greenR: 3.4,
   yTitle: true},
  {id: 'v5', title: panelTitles[4], grayCore: p5GrayCore, gray: p5Gray, greenCore: p5GreenCore, green: p5Green, redCore: p5RedCore, red: p5Red, blue: p5Blue,
   xr: [-10.73, 10.86], yr: lowY, xTicks: lowXTicks, yTicks: lowYTicks, pad: {l: 66, t: 8, r: 8, b: 63}, coreR: 3.4, greenR: 3.0,
   yTitle: true, xTitle: true}
].forEach(makeVolcano);

// Venn layout (units of one circle radius)
const vennCircles = [[-0.655, 0], [0.655, 0], [-0.005, -1.13]];
const vennFills = ['#6666ff', '#ffff66', '#66ff66'];
const vennPairFills = [[0, 1, '#bfbe90'], [0, 2, '#66dd55'], [1, 2, '#bbff4d']];
const vennTripleFill = '#99dd99';
const vennLabelPos = [[-0.875, 0.01], [-0.025, 0.23], [0.75, 0.01], [-0.55, -0.64], [-0.025, -0.37], [0.47, -0.64], [-0.03, -1.29]];
const vennLabelColors = ['#fff', '#fff', '#000', '#fff', '#fff', '#000', '#000'];

function vennDecor(v) {
  const geom = chart => {
    const xs = chart.scales.x, ys = chart.scales.y;
    const px = u => xs.getPixelForValue(u), py = u => ys.getPixelForValue(u);
    return {px: px, py: py, r: Math.abs(px(1) - px(0))};
  };
  return {
    id: 'vennDecor',
    beforeDatasetsDraw(chart) {
      const ctx = chart.ctx, g = geom(chart);
      const circ = i => { ctx.beginPath(); ctx.arc(g.px(vennCircles[i][0]), g.py(vennCircles[i][1]), g.r, 0, 2 * Math.PI); };
      ctx.save();
      [0, 1, 2].forEach(i => { circ(i); ctx.fillStyle = vennFills[i]; ctx.fill(); });
      vennPairFills.forEach(([a, b, col]) => {
        ctx.save(); circ(a); ctx.clip(); circ(b); ctx.fillStyle = col; ctx.fill(); ctx.restore();
      });
      ctx.save(); circ(0); ctx.clip(); circ(1); ctx.clip(); circ(2); ctx.fillStyle = vennTripleFill; ctx.fill(); ctx.restore();
      ctx.lineWidth = 2.6; ctx.strokeStyle = '#000';
      [0, 1, 2].forEach(i => { circ(i); ctx.stroke(); });
      ctx.restore();
    },
    afterDatasetsDraw(chart) {
      const ctx = chart.ctx, g = geom(chart);
      const pts = chart.getDatasetMeta(0).data;
      ctx.save();
      ctx.textAlign = 'center';
      ctx.textBaseline = 'middle';
      ctx.font = '17px ' + FONT;
      v.counts.forEach((n, i) => {
        ctx.fillStyle = vennLabelColors[i];
        ctx.fillText(String(n), pts[i].x, pts[i].y);
      });
      ctx.fillStyle = '#000';
      ctx.font = 'bold 18.6px ' + FONT;
      v.sets.forEach((s, i) => ctx.fillText(s, g.px(v.namePos[i][0]), g.py(v.namePos[i][1])));
      ctx.font = 'bold 24px ' + FONT;
      ctx.fillText(v.letter, g.px(v.letterPos[0]), g.py(v.letterPos[1]));
      const hp = pts[v.highlight];
      ctx.strokeStyle = '#a33a3a';
      ctx.lineWidth = 2;
      ctx.beginPath();
      ctx.ellipse(hp.x, hp.y, 0.23 * g.r, 0.12 * g.r, 0, 0, 2 * Math.PI);
      ctx.stroke();
      ctx.strokeStyle = '#8e3030';
      ctx.lineWidth = 1.6;
      ctx.beginPath();
      ctx.moveTo(hp.x - 0.03 * g.r, hp.y + 0.12 * g.r);
      ctx.lineTo(g.px(v.linkEnd[0]), g.py(v.linkEnd[1]));
      ctx.moveTo(g.px(v.bar[0]), g.py(v.bar[1]));
      ctx.lineTo(g.px(v.bar[0]), g.py(v.bar[2]));
      ctx.stroke();
      ctx.restore();
    }
  };
}

function makeVenn(v) {
  new Chart(document.getElementById(v.id), {
    type: 'scatter',
    data: {datasets: [{data: toXY(vennLabelPos), pointRadius: 0, borderWidth: 0}]},
    options: {
      responsive: false, animation: false, events: [],
      layout: {padding: 0},
      plugins: {legend: {display: false}, tooltip: {enabled: false}},
      scales: {
        x: {display: false, min: v.xr[0], max: v.xr[1]},
        y: {display: false, min: v.yr[0], max: v.yr[1]}
      }
    },
    plugins: [vennDecor(v)]
  });
}

makeVenn({id: 'vennB', sets: vennBSets, counts: vennBCounts, letter: 'B', highlight: 0,
  xr: [-1.754, 1.847], yr: [-2.847, 1.686],
  namePos: [[-0.746, 1.119], [0.695, 1.119], [0.025, -2.254]], letterPos: [0.01, 1.475],
  linkEnd: [-1.593, -2.356], bar: [-1.61, -2.415, -2.788]});
makeVenn({id: 'vennC', sets: vennCSets, counts: vennCCounts, letter: 'C', highlight: 4,
  xr: [-1.771, 1.669], yr: [-2.839, 1.695],
  namePos: [[-0.737, 1.119], [0.763, 1.119], [0.068, -2.254]], letterPos: [-0.008, 1.475],
  linkEnd: [-1.669, -2.339], bar: [-1.695, -2.407, -2.78]});
</script>
</body>
</html>
